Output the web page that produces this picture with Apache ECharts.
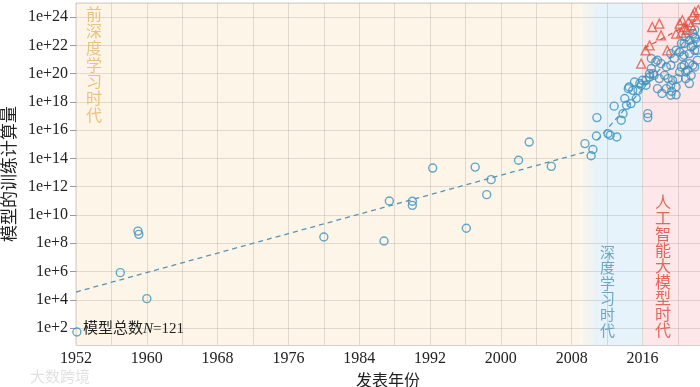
<!DOCTYPE html>
<html>
<head>
<meta charset="utf-8">
<script src="https://cdn.jsdelivr.net/npm/echarts@6/dist/echarts.min.js"></script>
<style>html,body{margin:0;padding:0;background:#fff;}#c{width:700px;height:387px;}</style>
</head>
<body>
<div id="c"></div>
<script>
// Blue circles: [year, log10(training compute)]
const circlePoints = [
  [1952.1,1.72],[1957.0,5.92],[1959.0,8.86],[1959.1,8.63],[1960.0,4.08],[1980.0,8.44],[1986.8,8.16],
  [1987.4,10.99],[1990.0,10.97],[1990.0,10.68],[1992.3,13.32],[1996.1,9.06],[1997.1,13.39],[1998.4,11.44],
  [1998.9,12.50],[2002.0,13.87],[2003.2,15.16],[2005.7,13.44],[2009.5,15.05],[2010.8,15.59],[2010.4,14.63],
  [2010.2,14.19],
  [2010.85,16.89],[2012.1,15.76],[2012.35,15.64],[2013.1,15.52],[2012.8,17.7],[2014.4,18.94],[2014.0,18.24],
  [2014.2,17.76],[2013.8,17.17],[2013.6,16.70],[2014.7,17.88],[2015.3,18.24],[2014.5,19.06],[2014.9,18.82],
  [2015.1,19.41],[2015.7,19.3],[2015.5,18.82],[2015.85,19.18],
  [2017.0,21.07],[2017.5,20.83],[2018.1,20.71],[2018.7,20.47],[2019.2,20.59],[2019.6,21.07],[2020.2,21.53],
  [2020.7,21.3],[2021.3,21.42],[2021.9,21.65],[2020.4,20.47],[2020.2,20.12],[2021.1,20.24],[2021.7,20.59],
  [2022.2,20.95],[2017.2,20.0],[2018.5,19.88],[2018.9,19.65],[2019.4,19.53],[2020.0,19.65],[2020.9,19.65],
  [2021.3,19.3],[2016.8,19.76],[2016.0,19.53],[2017.7,18.94],[2019.8,19.06],[2019.2,18.47],[2019.2,19.18],
  [2020.4,22.13],[2020.9,22.59],[2021.3,22.36],[2021.7,22.83],[2021.5,21.89],[2022.0,22.48],[2019.8,21.65],
  [2019.2,21.42],[2018.7,18.94],[2017.9,19.65],[2020.9,20.12],[2021.5,19.88],[2020.7,20.59],[2021.3,20.71],
  [2021.9,20.47],[2020.55,21.18],[2022.2,21.65],[2020.7,22.13],[2021.9,22.59],[2022.2,22.24],[2021.7,22.0],
  [2017.7,20.95],[2016.8,20.0],[2016.4,19.53],[2016.6,17.17],[2016.6,16.89],[2018.2,18.6],[2019.8,18.5],
  [2017.0,20.36],[2016.4,19.18],[2017.3,19.88],[2019.3,18.75],[2021.9,23.1]
];
// Red triangles: large models
const trianglePoints = [
  [2017.1,23.3],[2017.9,23.54],[2018.1,22.71],[2016.8,22.0],[2020.2,23.54],[2020.5,23.78],[2020.7,23.3],
  [2021.5,23.42],[2021.7,24.13],[2021.9,24.36],[2022.1,23.85],[2019.8,22.83],[2018.8,21.65],[2016.35,21.65],
  [2015.85,20.71],[2021.0,23.1],[2020.4,22.9],[2021.2,23.65],[2022.3,24.5]
];
// Trend lines
const trendPre = [[1952,4.55],[2009.8,14.5]];
const trendDL = [[2010.9,15.3],[2022.3,23.4]];
const trendLM = [[2016.2,21.8],[2022.3,23.85]];
// Eras (year ranges)
const eraPre = [1952, 2009];
const eraBlend = [2009, 2011];
const eraDL = [2011, 2016];
const eraLM = [2016, 2022.5];
const xMin = 1952, xMax = 2022.5, yMin = 0.8, yMax = 25;

const serif = '"Liberation Serif","Noto Sans CJK SC",serif';
const cjk = '"Noto Sans CJK SC","Liberation Serif",sans-serif';
const beige = '#fdf5e8', blue = '#e6f3fa', pink = '#fde7e8';
const gridLine = { color: 'rgba(140,130,120,0.24)', width: 1 };

const chart = echarts.init(document.getElementById('c'));
chart.setOption({
  animation: false,
  grid: { left: 76, right: 0, top: 3, bottom: 42, containLabel: false, outerBoundsMode: 'none',
    show: true, borderColor: '#cfcfcf', borderWidth: 1 },
  xAxis: {
    type: 'value', min: xMin, max: xMax, interval: 4, z: 2,
    name: '发表年份', nameLocation: 'middle', nameGap: 21,
    nameTextStyle: { fontFamily: cjk, fontSize: 16, color: '#222' },
    axisLine: { show: false }, axisTick: { show: false },
    axisLabel: { fontFamily: serif, fontSize: 16, color: '#222', margin: 6, showMaxLabel: false,
      formatter: v => ((v - 1952) % 8 === 0 ? String(v) : '') },
    splitLine: { show: true, lineStyle: gridLine }
  },
  yAxis: {
    type: 'value', min: yMin, max: yMax, splitNumber: 12, z: 2,
    name: '模型的训练计算量', nameLocation: 'middle', nameGap: 49, nameRotate: 90,
    nameTextStyle: { fontFamily: cjk, fontSize: 17, color: '#222' },
    axisLine: { show: false },
    axisTick: { show: true, length: 6, lineStyle: { color: '#999' } },
    axisLabel: { fontFamily: serif, fontSize: 16, color: '#222', margin: 8, showMinLabel: false, showMaxLabel: false,
      formatter: v => (Math.abs(v - Math.round(v)) < 1e-6 && Math.round(v) % 2 === 0 ? '1e+' + Math.round(v) : '') },
    splitLine: { show: true, lineStyle: gridLine }
  },
  series: [
    {
      type: 'line', data: [], z: 1, silent: true,
      markArea: {
        silent: true,
        data: [
          [{ xAxis: eraPre[0], itemStyle: { color: beige } }, { xAxis: eraPre[1] }],
          [{ xAxis: eraBlend[0], itemStyle: { color: new echarts.graphic.LinearGradient(0, 0, 1, 0, [
              { offset: 0, color: beige }, { offset: 1, color: blue }]) } }, { xAxis: eraBlend[1] }],
          [{ xAxis: eraDL[0], itemStyle: { color: blue } }, { xAxis: eraDL[1] }],
          [{ xAxis: eraLM[0], itemStyle: { color: pink } }, { xAxis: eraLM[1] }]
        ]
      }
    },
    { type: 'line', data: trendPre, symbol: 'none', lineStyle: { color: '#5a93b6', width: 1.3, type: [5, 4] }, z: 3 },
    { type: 'line', data: trendDL, symbol: 'none', lineStyle: { color: '#4a95c0', width: 1.3, type: [5, 4] }, z: 3 },
    { type: 'line', data: trendLM, symbol: 'none', lineStyle: { color: '#e0553f', width: 1.3, type: [5, 4] }, z: 3 },
    {
      type: 'scatter', data: circlePoints, symbol: 'circle', symbolSize: 8,
      itemStyle: { color: 'rgba(0,0,0,0)', borderColor: '#3b92bd', borderWidth: 1.4 }, z: 4
    },
    {
      type: 'scatter', data: trianglePoints, symbol: 'triangle', symbolSize: 9,
      itemStyle: { color: 'rgba(0,0,0,0)', borderColor: '#e2503e', borderWidth: 1.3 }, z: 4
    }
  ],
  graphic: [
    { type: 'text', left: 86, top: 6, z: 10, style: { text: '前深度学习时代'.split('').join('\n'), fontFamily: cjk, fontSize: 16, lineHeight: 16.7, fill: '#e9c27e', align: 'center' } },
    { type: 'text', left: 600, top: 244, z: 10, style: { text: '深度学习时代'.split('').join('\n'), fontFamily: cjk, fontSize: 15, lineHeight: 15.6, fill: '#6ea6c5', align: 'center' } },
    { type: 'text', left: 655, top: 194, z: 10, style: { text: '人工智能大模型时代'.split('').join('\n'), fontFamily: cjk, fontSize: 16, lineHeight: 16, fill: '#e0675c', align: 'center' } },
    { type: 'text', left: 83, top: 322, z: 10, style: {
        text: '{a|模型总数}{b|N}{a|=121}',
        rich: { a: { fontFamily: serif, fontSize: 15, fill: '#222' }, b: { fontFamily: serif, fontSize: 15, fontStyle: 'italic', fill: '#222' } } } },
    { type: 'text', left: 30, top: 369, z: 10, style: { text: '大数跨境', fontFamily: cjk, fontSize: 15, fill: '#e2e2e2' } }
  ]
});
</script>
</body>
</html>
